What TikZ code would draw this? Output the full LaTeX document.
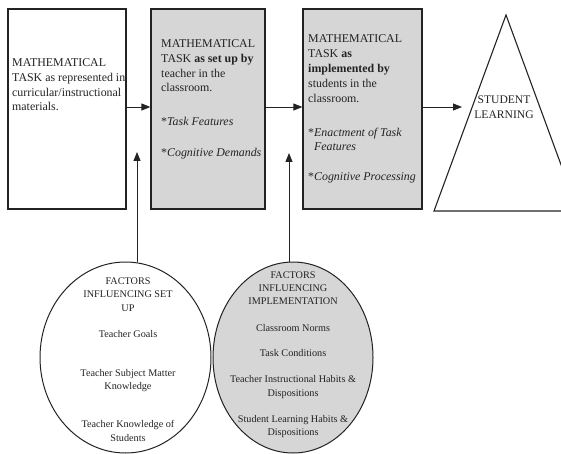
\documentclass[tikz,border=0pt]{standalone}
\usepackage{fontspec}
\setmainfont{Liberation Serif}
\usetikzlibrary{shapes.geometric,arrows.meta}
\definecolor{boxgray}{RGB}{214,214,214}
\definecolor{inkc}{RGB}{35,35,35}
\begin{document}
\begin{tikzpicture}[x=1pt,y=-1pt,
  taskbox/.style={draw=inkc, line width=1.2pt, inner sep=0pt, minimum height=200pt},
  shaded/.style={fill=boxgray},
  boxtext/.style={anchor=base west, inner sep=0pt, align=left, text=inkc,
    font=\fontsize{11.9}{14.8}\selectfont},
  factor/.style={draw=inkc, ellipse, line width=1pt, inner sep=0pt},
  factortext/.style={anchor=base, inner sep=0pt, align=center, text=inkc,
    font=\fontsize{10.2}{13.2}\selectfont},
  conn/.style={draw=inkc, line width=0.9pt, -{Triangle[length=9pt,width=7pt]}}]
\useasboundingbox (0,0) rectangle (561,454);

% task boxes
\node[taskbox, minimum width=118pt] (b1) at (67,109) {};
\node[taskbox, shaded, minimum width=114pt] (b2) at (208,109) {};
\node[taskbox, shaded, minimum width=119pt] (b3) at (362.5,109) {};

% (base anchor of a multi-line node = baseline of its last line)
\node[boxtext] (t1) at (12,111) {MATHEMATICAL\\TASK as represented in\\curricular/instructional\\materials.};
\node[boxtext] (t2) at (161,157) {MATHEMATICAL\\TASK \textbf{as set up by}\\teacher in the\\classroom.\\[19.2pt]
  *\textit{Task Features}\\[16.2pt]*\textit{Cognitive Demands}};
\node[boxtext] (t3) at (308,181) {MATHEMATICAL\\TASK \textbf{as}\\\textbf{implemented by}\\students in the\\classroom.\\[19.2pt]
  *\textit{Enactment of Task}\\\phantom{*}\textit{Features}\\[15.2pt]*\textit{Cognitive Processing}};

% student learning triangle
\begin{scope}
  \clip (0,0) rectangle (561,454);
  \draw[draw=inkc, line width=1.1pt, line join=miter] (506,15) -- (434,211) -- (578,211) -- cycle;
\end{scope}
\node[anchor=base, inner sep=0pt, align=center, text=inkc,
  font=\fontsize{11.6}{15}\selectfont] (tt) at (504,119) {STUDENT\\LEARNING};

% factor ellipses
\node[factor, minimum width=171pt, minimum height=191pt] (e1) at (125.5,357.5) {};
\node[factor, shaded, minimum width=160pt, minimum height=191pt] (e2) at (293,357.5) {};

\node[factortext] (f1) at (128,441) {FACTORS\\INFLUENCING SET\\UP\\[13pt]Teacher Goals\\[26pt]
  Teacher Subject Matter\\Knowledge\\[25pt]Teacher Knowledge of\\Students};
\node[factortext] (f2) at (293,435.5) {FACTORS\\INFLUENCING\\IMPLEMENTATION\\[13.5pt]
  Classroom Norms\\[12pt]Task Conditions\\[13pt]Teacher Instructional Habits \&\\Dispositions\\[13pt]
  Student Learning Habits \&\\Dispositions};

% connectors
\coordinate (sl) at (462,107);
\coordinate (u1) at (137,152);
\coordinate (u2) at (289,153);
\draw[conn] ([yshift=2pt]b1.east) -- ([yshift=2pt]b2.west);
\draw[conn] ([yshift=2pt]b2.east) -- ([yshift=2pt]b3.west);
\draw[conn] ([yshift=2pt]b3.east) -- (sl);
\draw[conn] (e1.north -| u1) -- (u1);
\draw[conn] (e2.north -| u2) -- (u2);
\end{tikzpicture}
\end{document}
